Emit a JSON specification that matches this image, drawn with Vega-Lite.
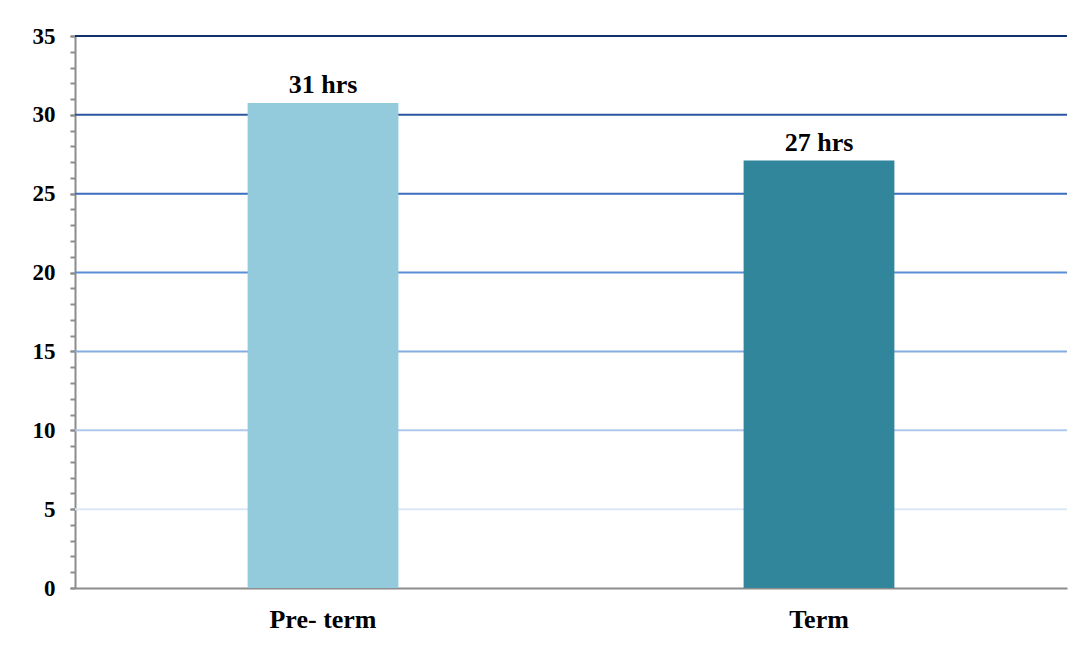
{
  "$schema": "https://vega.github.io/schema/vega-lite/v6.json",
  "width": 992,
  "height": 552,
  "autosize": {"type": "none"},
  "padding": {"left": 75, "top": 36, "right": 17, "bottom": 57},
  "background": "white",
  "config": {"view": {"stroke": null}},
  "layer": [
    {
      "data": {"values": [{"v": 5}, {"v": 10}, {"v": 15}, {"v": 20}, {"v": 25}, {"v": 30}, {"v": 35}]},
      "mark": {"type": "rule", "strokeWidth": 2},
      "encoding": {
        "y": {"field": "v", "type": "quantitative", "scale": {"domain": [0, 35], "nice": false},
          "axis": {"title": null, "grid": false, "orient": "left", "values": [0, 5, 10, 15, 20, 25, 30, 35],
            "labelOverlap": false, "labelFlush": false,
            "tickSize": 5, "tickColor": "#8c8c8c", "tickWidth": 2,
            "domainColor": "#8c8c8c", "domainWidth": 2, "labelFont": "Liberation Serif", "labelFontWeight": "bold",
            "labelFontSize": 23, "labelColor": "black", "labelPadding": 15}},
        "color": {"field": "v", "type": "ordinal", "legend": null,
          "scale": {"domain": [5, 10, 15, 20, 25, 30, 35], "range": ["#DCE7F6", "#AFC8EC", "#86ABE0", "#5A8FD8", "#3D6DBE", "#2B55A0", "#10306E"]}}
      }
    },
    {
      "data": {"values": [{"group": "Pre- term", "hours": 30.75, "label": "31 hrs"}, {"group": "Term", "hours": 27.1, "label": "27 hrs"}]},
      "layer": [
        {
          "mark": {"type": "bar"},
          "encoding": {
            "x": {"field": "group", "type": "nominal", "sort": null,
              "scale": {"paddingInner": 0.696, "paddingOuter": 0.348},
              "axis": {"title": null, "labelAngle": 0, "ticks": false, "domainColor": "#8c8c8c", "domainWidth": 2,
                "labelFont": "Liberation Serif", "labelFontWeight": "bold", "labelFontSize": 26, "labelColor": "black", "labelPadding": 18}},
            "y": {"field": "hours", "type": "quantitative", "scale": {"domain": [0, 35], "nice": false},
              "axis": {"title": null, "grid": false, "orient": "left", "labels": false, "domain": false,
                "values": [0,1,2,3,4,5,6,7,8,9,10,11,12,13,14,15,16,17,18,19,20,21,22,23,24,25,26,27,28,29,30,31,32,33,34,35],
                "tickSize": 5, "tickColor": "#8c8c8c", "tickWidth": 2}},
            "color": {"field": "group", "type": "nominal", "legend": null,
              "scale": {"domain": ["Pre- term", "Term"], "range": ["#93CADC", "#31869B"]}}
          }
        },
        {
          "mark": {"type": "text", "font": "Liberation Serif", "fontWeight": "bold", "fontSize": 26, "baseline": "alphabetic", "dy": -10, "color": "black"},
          "encoding": {
            "x": {"field": "group", "type": "nominal", "sort": null},
            "y": {"field": "hours", "type": "quantitative",
              "axis": {"title": null, "grid": false, "orient": "left", "labels": false, "domain": false,
                "values": [0,1,2,3,4,5,6,7,8,9,10,11,12,13,14,15,16,17,18,19,20,21,22,23,24,25,26,27,28,29,30,31,32,33,34,35],
                "tickSize": 5, "tickColor": "#8c8c8c", "tickWidth": 2}},
            "text": {"field": "label"}
          }
        }
      ]
    }
  ],
  "resolve": {"scale": {"color": "independent"}, "axis": {"y": "independent"}}
}
